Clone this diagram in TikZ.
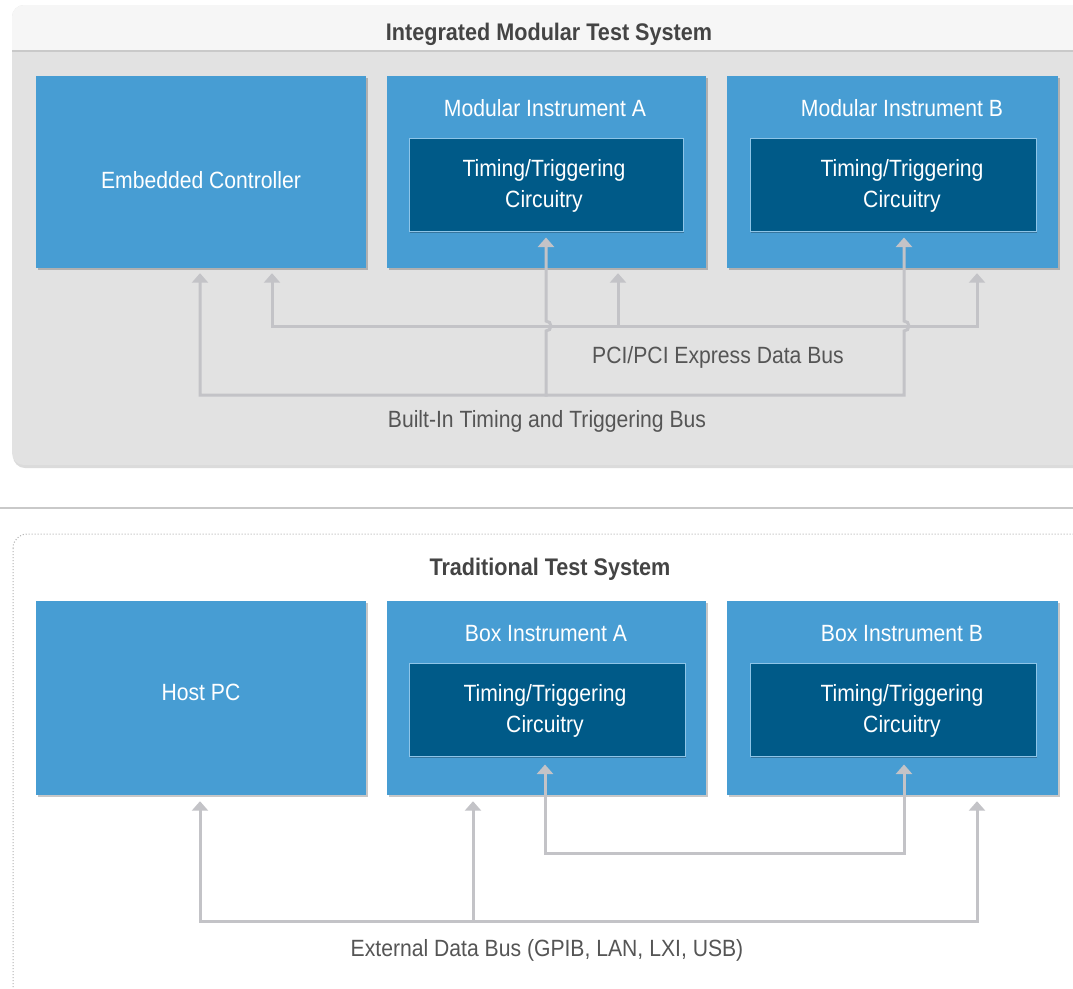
\documentclass[tikz,border=0pt]{standalone}
\usepackage{fontspec}
\setmainfont{Liberation Sans}[FakeStretch=0.9]
\usetikzlibrary{arrows.meta,shadows}
\definecolor{boxblue}{HTML}{479DD3}
\definecolor{innerblue}{HTML}{005A88}
\definecolor{innerline}{HTML}{8EC5E8}
\definecolor{busgray}{HTML}{C3C3C7}
\definecolor{panelgray}{HTML}{E2E2E2}
\definecolor{bandgray}{HTML}{F6F6F6}
\definecolor{linegray}{HTML}{C9C9C9}
\definecolor{labelgray}{HTML}{555555}
\definecolor{titlegray}{HTML}{444444}
\begin{document}
\begin{tikzpicture}[x=1pt,y=-1pt,
  outerbox/.style={fill=boxblue, draw=none, minimum width=#1, minimum height=192pt, inner sep=0pt,
    drop shadow={shadow xshift=1.5pt, shadow yshift=-2pt, fill=black, opacity=0.22}},
  innerbox/.style={fill=innerblue, draw=innerline, line width=1pt, minimum width=#1, minimum height=93pt, inner sep=0pt,
    drop shadow={shadow xshift=1pt, shadow yshift=-1.5pt, fill=black, opacity=0.25}},
  whitetext/.style={text=white, font=\fontsize{23.5}{31}\selectfont, align=center, inner sep=0pt},
  buslabel/.style={text=labelgray, font=\fontsize{23.5}{31}\selectfont, inner sep=0pt},
  paneltitle/.style={text=titlegray, font=\bfseries\fontsize{24}{28}\selectfont, inner sep=0pt},
  bus/.style={draw=busgray, line width=3pt, line cap=rect},
  tip/.tip={Triangle[width=16pt,length=9.5pt]},
]
\useasboundingbox (0,0) rectangle (1073,988);
\fill[white] (0,0) rectangle (1073,988);

% ---------- top panel ----------
\fill[black!14, rounded corners=12pt] (13,8) rectangle (1095,468);
\fill[panelgray, rounded corners=12pt] (12,5) rectangle (1095,465);
\begin{scope}
  \clip[rounded corners=12pt] (12,5) rectangle (1095,465);
  \fill[bandgray] (12,5) rectangle (1095,50);
  \draw[linegray, line width=2.5pt] (12,51) -- (1095,51);
\end{scope}
\node[paneltitle] (t1) at (549,34) {Integrated Modular Test System};

% ---------- separator ----------
\draw[linegray, line width=1.5pt] (0,508) -- (1073,508);

% ---------- bottom panel ----------
\draw[gray!60, dotted, line width=1pt, rounded corners=14pt] (13,534) rectangle (1095,1005);
\node[paneltitle] (t2) at (550,569) {Traditional Test System};

% ---------- top boxes ----------
\node[outerbox=330pt] (ec) at (201,172) {};
\node[whitetext] (ecl) at (201,180) {Embedded Controller};
\node[outerbox=319pt] (mia) at (546.5,172) {};
\node[whitetext] (mial) at (545,108) {Modular Instrument A};
\node[innerbox=274pt] (ia) at (546,184.5) {};
\node[whitetext] (ial) at (544,185.5) {Timing/Triggering\\Circuitry};
\node[outerbox=331pt] (mib) at (892.5,172) {};
\node[whitetext] (mibl) at (902,108) {Modular Instrument B};
\node[innerbox=286pt] (ib) at (893,184.5) {};
\node[whitetext] (ibl) at (902,185.5) {Timing/Triggering\\Circuitry};

% ---------- top buses ----------
\coordinate (pciL) at (272,326);
\coordinate (pciM) at (618,326);
\coordinate (pciR) at (977,326);
\coordinate (tbL) at (200,395);
\coordinate (tbM) at (546,395);
\coordinate (tbR) at (904,395);

\draw[bus, tip-tip, shorten <=5pt, shorten >=5pt]
  (pciL |- ec.south) -- (pciL) -- (pciR) -- (pciR |- mib.south);
\draw[bus, -tip, shorten >=5pt] (pciM) -- (pciM |- mia.south);

\draw[bus, tip-tip, shorten <=5pt, shorten >=6pt]
  (tbL |- ec.south) -- (tbL) -- (tbR) -- (904,331)
  arc[start angle=90, end angle=-90, radius=5] -- (tbR |- ib.south);
\draw[bus, -tip, shorten >=6pt] (tbM) -- (546,331)
  arc[start angle=90, end angle=-90, radius=5] -- (tbM |- ia.south);

\node[buslabel] (pcil) at (718,357) {PCI/PCI Express Data Bus};
\node[buslabel] (tbl) at (547,421) {Built-In Timing and Triggering Bus};

% ---------- bottom boxes ----------
\node[outerbox=330pt, minimum height=194pt] (hpc) at (201,698) {};
\node[whitetext] (hpcl) at (201,692) {Host PC};
\node[outerbox=319pt, minimum height=194pt] (bia) at (546.5,698) {};
\node[whitetext] (bial) at (546,634) {Box Instrument A};
\node[innerbox=276pt] (ia2) at (547,709.5) {};
\node[whitetext] (ia2l) at (545,711) {Timing/Triggering\\Circuitry};
\node[outerbox=331pt, minimum height=194pt] (bib) at (892.5,698) {};
\node[whitetext] (bibl) at (902,634) {Box Instrument B};
\node[innerbox=286pt] (ib2) at (893,709.5) {};
\node[whitetext] (ib2l) at (902,711) {Timing/Triggering\\Circuitry};

% ---------- bottom buses ----------
\coordinate (exL) at (200,921);
\coordinate (exM) at (473,921);
\coordinate (exR) at (977,921);
\coordinate (ttL) at (545,853);
\coordinate (ttR) at (904,853);

\draw[bus, tip-tip, shorten <=6pt, shorten >=6pt]
  (exL |- hpc.south) -- (exL) -- (exR) -- (exR |- bib.south);
\draw[bus, -tip, shorten >=6pt] (exM) -- (exM |- bia.south);
\draw[bus, tip-tip, shorten <=8pt, shorten >=8pt]
  (ttL |- ia2.south) -- (ttL) -- (ttR) -- (ttR |- ib2.south);

\node[buslabel] (exl) at (547,950) {External Data Bus (GPIB, LAN, LXI, USB)};
\end{tikzpicture}
\end{document}
